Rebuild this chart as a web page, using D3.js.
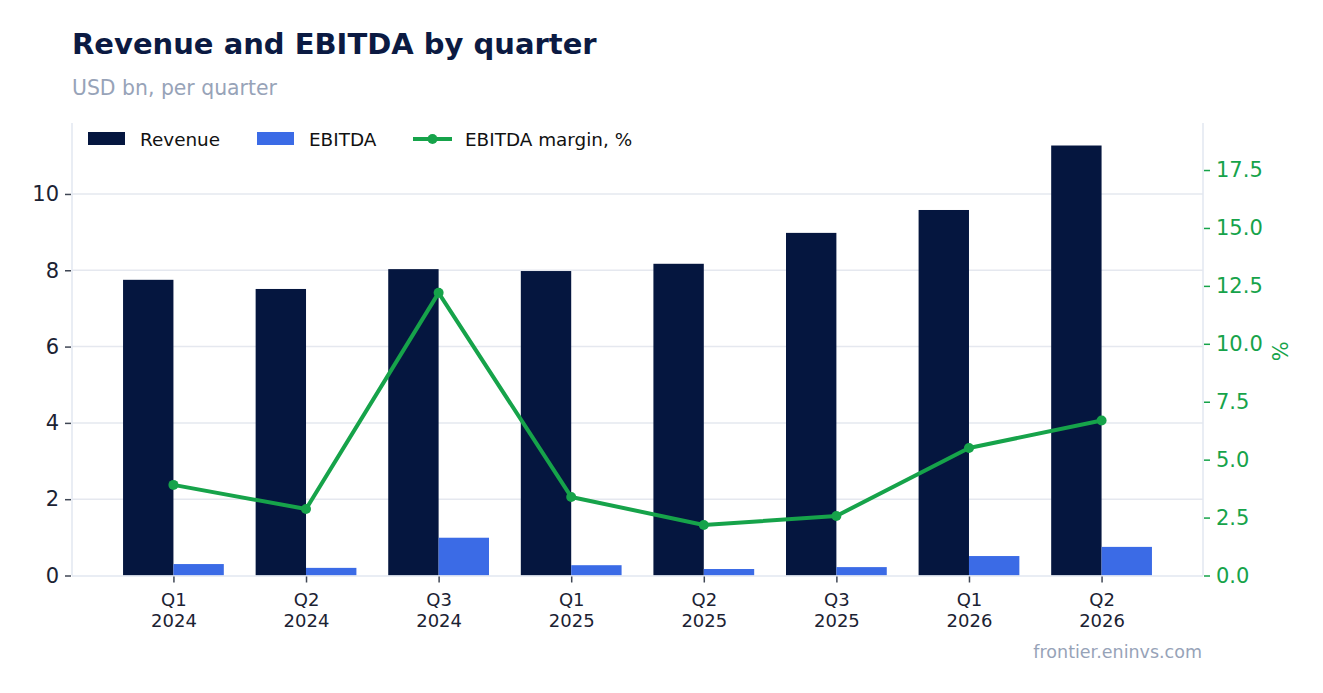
<!DOCTYPE html>
<html>
<head>
<meta charset="utf-8">
<script src="https://cdn.jsdelivr.net/npm/d3@7"></script>
<style>
  body { margin: 0; background: #fff; font-family: "DejaVu Sans", sans-serif; }
</style>
</head>
<body>
<div id="chart"></div>
<script>
'use strict';

// quarters, split in two lines on the axis
const quarters = ['Q1 2024', 'Q2 2024', 'Q3 2024', 'Q1 2025', 'Q2 2025', 'Q3 2025', 'Q1 2026', 'Q2 2026'];

// USD bn
const revenue = [7.75, 7.51, 8.03, 7.98, 8.17, 8.98, 9.58, 11.27];
const ebitda = [0.30, 0.20, 0.99, 0.27, 0.17, 0.22, 0.51, 0.75];

// %
const margin = [3.91, 2.87, 12.2, 3.39, 2.18, 2.57, 5.50, 6.69];

const leftTicks = [0, 2, 4, 6, 8, 10];
const rightTicks = [0, 2.5, 5, 7.5, 10, 12.5, 15, 17.5];

const W = 1323, H = 693;
const plot = {left: 72, right: 1203, top: 123, bottom: 575.5};

const NAVY = '#05163f', BLUE = '#3b6be6', GREEN = '#16a34a';
const GRID = '#e5e8ef', AXIS = '#e2e7f0';

const svg = d3.select('#chart').append('svg')
    .attr('width', W)
    .attr('height', H);

// category positions on a linear index scale, with plotly-like padding
const x = d3.scaleLinear().domain([-0.765, quarters.length - 0.235]).range([plot.left, plot.right]);
const y = d3.scaleLinear().domain([0, 11.86]).range([plot.bottom, plot.top]);
const y2 = d3.scaleLinear().domain([0, 19.53]).range([plot.bottom, plot.top]);

const barW = x(0.38) - x(0);

// gridlines
svg.append('g')
    .selectAll('line')
    .data(leftTicks.filter(d => d > 0))
    .enter()
    .append('line')
    .attr('x1', plot.left)
    .attr('x2', plot.right)
    .attr('y1', d => y(d))
    .attr('y2', d => y(d))
    .attr('stroke', GRID)
    .attr('stroke-width', 1.5);

// axis lines
svg.append('line')
    .attr('x1', plot.left).attr('x2', plot.left)
    .attr('y1', plot.top).attr('y2', plot.bottom)
    .attr('stroke', AXIS).attr('stroke-width', 1.5);
svg.append('line')
    .attr('x1', plot.right).attr('x2', plot.right)
    .attr('y1', plot.top).attr('y2', plot.bottom)
    .attr('stroke', AXIS).attr('stroke-width', 1.5);

// bars
svg.append('g')
    .selectAll('rect')
    .data(revenue)
    .enter()
    .append('rect')
    .attr('x', (d, i) => x(i) - barW)
    .attr('y', d => y(d))
    .attr('width', barW)
    .attr('height', d => y(0) - y(d))
    .attr('fill', NAVY);

svg.append('g')
    .selectAll('rect')
    .data(ebitda)
    .enter()
    .append('rect')
    .attr('x', (d, i) => x(i))
    .attr('y', d => y(d))
    .attr('width', barW)
    .attr('height', d => y(0) - y(d))
    .attr('fill', BLUE);

// bottom axis line
svg.append('line')
    .attr('x1', plot.left).attr('x2', plot.right)
    .attr('y1', plot.bottom + 0.5).attr('y2', plot.bottom + 0.5)
    .attr('stroke', AXIS).attr('stroke-width', 1.5);

// margin line
const line = d3.line()
    .x((d, i) => x(i))
    .y(d => y2(d));

svg.append('path')
    .datum(margin)
    .attr('d', line)
    .attr('fill', 'none')
    .attr('stroke', GREEN)
    .attr('stroke-width', 4)
    .attr('stroke-linejoin', 'round');

svg.append('g')
    .selectAll('circle')
    .data(margin)
    .enter()
    .append('circle')
    .attr('cx', (d, i) => x(i))
    .attr('cy', d => y2(d))
    .attr('r', 5)
    .attr('fill', GREEN);

// left axis
const leftAxis = svg.append('g')
    .attr('transform', 'translate(' + (plot.left - 1) + ',0)')
    .call(d3.axisLeft(y).tickValues(leftTicks).tickSize(6).tickPadding(6).tickFormat(d3.format('d')));
leftAxis.select('.domain').remove();
leftAxis.selectAll('line').attr('stroke', '#3f4654').attr('stroke-width', 1.5);
leftAxis.selectAll('text')
    .attr('fill', '#1b2233')
    .style('font-family', '"DejaVu Sans", sans-serif')
    .style('font-size', '21px');

// right axis
const rightAxis = svg.append('g')
    .attr('transform', 'translate(' + (plot.right + 1) + ',0)')
    .call(d3.axisRight(y2).tickValues(rightTicks).tickSize(6).tickPadding(6).tickFormat(d3.format('.1f')));
rightAxis.select('.domain').remove();
rightAxis.selectAll('line').attr('stroke', GREEN).attr('stroke-width', 1.5);
rightAxis.selectAll('text')
    .attr('fill', GREEN)
    .style('font-family', '"DejaVu Sans", sans-serif')
    .style('font-size', '21px');

svg.append('text')
    .attr('transform', 'translate(1288,' + ((plot.top + plot.bottom) / 2 + 2) + ') rotate(-90)')
    .attr('text-anchor', 'middle')
    .attr('fill', GREEN)
    .style('font-size', '21px')
    .text('%');

// bottom axis
const bottomAxis = svg.append('g')
    .attr('transform', 'translate(0,' + (plot.bottom + 1) + ')')
    .call(d3.axisBottom(x).tickValues(d3.range(quarters.length)).tickSize(6).tickFormat(''));
bottomAxis.select('.domain').remove();
bottomAxis.selectAll('line').attr('stroke', '#3f4654').attr('stroke-width', 1.5);
bottomAxis.selectAll('.tick').each(function(d) {
    const parts = quarters[d].split(' ');
    const t = d3.select(this).append('text')
        .attr('text-anchor', 'middle')
        .attr('fill', '#1b2233')
        .style('font-family', '"DejaVu Sans", sans-serif')
        .style('font-size', '18px');
    t.append('tspan').attr('x', 0).attr('y', 29).text(parts[0]);
    t.append('tspan').attr('x', 0).attr('y', 50).text(parts[1]);
});

// legend
const legend = svg.append('g').attr('transform', 'translate(88,139)');
legend.append('rect').attr('x', 0).attr('y', -7).attr('width', 37).attr('height', 13).attr('fill', NAVY);
legend.append('text').attr('x', 52).attr('y', 6.5).text('Revenue');
legend.append('rect').attr('x', 169).attr('y', -7).attr('width', 37).attr('height', 13).attr('fill', BLUE);
legend.append('text').attr('x', 221).attr('y', 6.5).text('EBITDA');
legend.append('line').attr('x1', 325).attr('x2', 364).attr('y1', 0).attr('y2', 0)
    .attr('stroke', GREEN).attr('stroke-width', 4);
legend.append('circle').attr('cx', 344.5).attr('cy', 0).attr('r', 5).attr('fill', GREEN);
legend.append('text').attr('x', 377).attr('y', 6.5).text('EBITDA margin, %');
legend.selectAll('text').attr('fill', '#111').style('font-size', '18.4px');

// titles
svg.append('text')
    .attr('x', 72).attr('y', 54)
    .attr('fill', '#0b1a42')
    .style('font-size', '29px')
    .style('font-weight', 'bold')
    .text('Revenue and EBITDA by quarter');

svg.append('text')
    .attr('x', 72).attr('y', 95)
    .attr('fill', '#97a3b8')
    .style('font-size', '20.4px')
    .text('USD bn, per quarter');

svg.append('text')
    .attr('x', 1202).attr('y', 658)
    .attr('text-anchor', 'end')
    .attr('fill', '#97a3b8')
    .style('font-size', '17.5px')
    .text('frontier.eninvs.com');
</script>
</body>
</html>
